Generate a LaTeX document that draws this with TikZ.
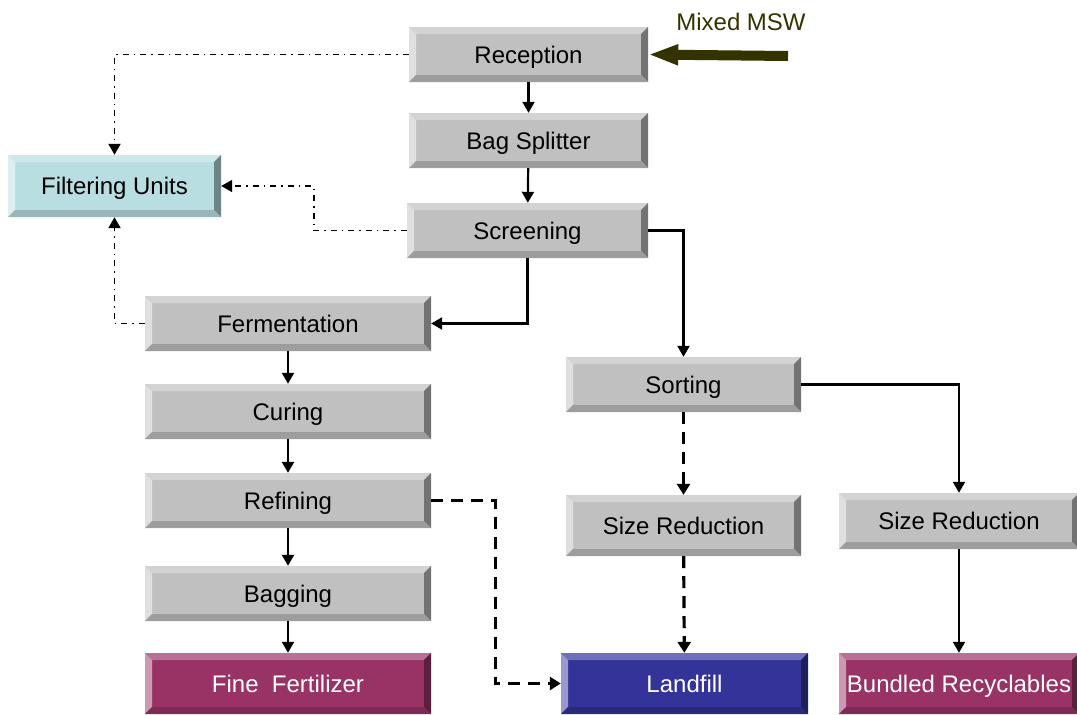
\documentclass[tikz,border=0pt]{standalone}
\usepackage{fontspec}
\setmainfont{Liberation Sans}
\usetikzlibrary{arrows.meta, calc}

\definecolor{greybox}{RGB}{192,192,192}
\definecolor{filtbox}{RGB}{184,222,226}
\definecolor{plumbox}{RGB}{153,51,102}
\definecolor{navybox}{RGB}{51,51,153}
\definecolor{mswcol}{RGB}{51,51,0}

\tikzset{
  bevel/.style={fill=#1, inner sep=0pt, font=\fontsize{24}{28}\selectfont,
    text height=17pt, text depth=0pt,
    path picture={
      \coordinate (bvnw) at (path picture bounding box.north west);
      \coordinate (bvne) at (path picture bounding box.north east);
      \coordinate (bvsw) at (path picture bounding box.south west);
      \coordinate (bvse) at (path picture bounding box.south east);
      \fill[#1!70!white] (bvnw) -- (bvne) -- ($(bvne)+(-7pt,-7pt)$) -- ($(bvnw)+(7pt,-7pt)$) -- cycle;
      \fill[#1!50!white] (bvnw) -- ($(bvnw)+(7pt,-7pt)$) -- ($(bvsw)+(7pt,7pt)$) -- (bvsw) -- cycle;
      \fill[#1!60!black] (bvne) -- (bvse) -- ($(bvse)+(-7pt,7pt)$) -- ($(bvne)+(-7pt,-7pt)$) -- cycle;
      \fill[#1!82!black] (bvsw) -- (bvse) -- ($(bvse)+(-7pt,7pt)$) -- ($(bvsw)+(7pt,7pt)$) -- cycle;
    }},
  stage/.style={bevel=greybox, minimum width=#1, minimum height=55pt},
  sink/.style={bevel=plumbox, text=white, minimum width=#1, minimum height=61pt},
  flow/.style={line width=2.2pt, -{Triangle[length=11pt,width=12pt]}},
  waste/.style={line width=3.2pt, dash pattern=on 12pt off 8pt, -{Triangle[length=11pt,width=13pt]}},
  air/.style={line width=1.9pt, dash pattern=on 6pt off 5pt on 1.5pt off 5pt, -{Triangle[length=11pt,width=12pt]}},
}

\begin{document}
\begin{tikzpicture}[x=1pt, y=-1pt]
\useasboundingbox (0,0) rectangle (1077,715);
% main line
\node [stage=239pt] (reception) at (528.5,54.5) {Reception};
\node [stage=239pt] (splitter) at (528.5,140.5) {Bag Splitter};
\node [stage=241pt] (screening) at (527.5,230.5) {Screening};
\node [bevel=filtbox, minimum width=213pt, minimum height=62pt] (filter) at (114.5,186) {Filtering Units};
% compost side
\node [stage=286pt] (ferment) at (288,323.5) {Fermentation};
\node [stage=286pt] (curing) at (288,411.5) {Curing};
\node [stage=286pt] (refining) at (288,500.5) {Refining};
\node [stage=286pt] (bagging) at (288,593.5) {Bagging};
\node [sink=286pt] (fertilizer) at (288,683.5) {Fine\ \ Fertilizer};
% sorting side
\node [stage=235pt] (sorting) at (683.5,384.5) {Sorting};
\node [stage=235pt, minimum height=61pt] (sizeleft) at (683.5,525.5) {Size Reduction};
\node [stage=240pt, minimum height=56pt] (sizeright) at (959,521) {Size Reduction};
\node [bevel=navybox, text=white, minimum width=247pt, minimum height=61pt] (landfill) at (684.5,683.5) {Landfill};
\node [sink=240pt] (bundled) at (959,683.5) {Bundled Recyclables};
%Input
\node [text=mswcol, font=\fontsize{24}{28}\selectfont] (msw) at (741,22) {Mixed MSW};
\coordinate (mswtail) at (788,56);
\draw [mswcol, line width=10pt, -{Triangle[length=30pt,width=19pt]}] (mswtail) -- (reception.east);
%Flows
\draw [flow] (reception) -- (splitter);
\draw [flow] (splitter) -- (screening);
\draw [flow] (screening.south) |- (ferment.east);
\draw [flow] (screening.east) -| (sorting.north);
\draw [flow] (sorting.east) -| (sizeright.north);
\draw [flow] (sizeright) -- (bundled);
\draw [flow] (ferment) -- (curing);
\draw [flow] (curing) -- (refining);
\draw [flow] (refining) -- (bagging);
\draw [flow] (bagging) -- (fertilizer);
\draw [waste] (sorting) -- (sizeleft);
\draw [waste] (sizeleft) -- (landfill);
\draw [waste] (refining.east) -- ++(64,0) |- (landfill.west);
%Exhaust air
\draw [air] (reception.west) -| (filter.north);
\draw [air] (screening.west) -- ++(-93,0) |- (filter.east);
\draw [air] (ferment.west) -| (filter.south);
\end{tikzpicture}
\end{document}
